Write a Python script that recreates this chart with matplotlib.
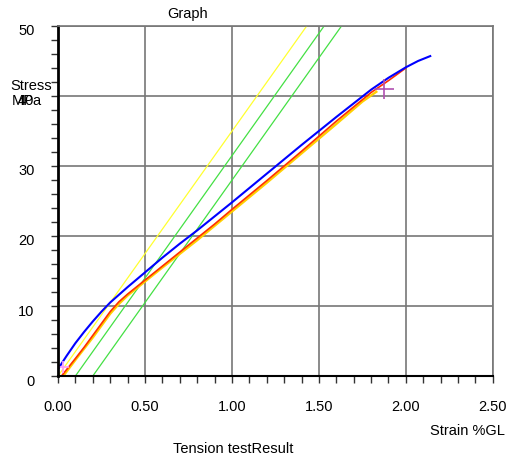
import numpy as np
import matplotlib.pyplot as plt
from matplotlib.ticker import MultipleLocator
import matplotlib.transforms as mtransforms

plt.rcParams['font.family'] = ['Liberation Sans', 'DejaVu Sans']

# stress-strain curves
blue_strain = [0.0, 0.05, 0.1, 0.15, 0.2, 0.25, 0.3, 0.35, 0.4, 0.5, 0.6, 0.7, 0.8,
               0.9, 1.0, 1.2, 1.4, 1.6, 1.8, 1.9, 2.0, 2.07, 2.14]
blue_stress = [1.0, 2.9, 4.7, 6.3, 7.8, 9.2, 10.5, 11.6, 12.7, 14.8, 16.9, 18.9, 20.8,
               22.8, 24.8, 28.9, 33.0, 37.0, 40.9, 42.6, 44.1, 45.0, 45.7]

red_strain = [0.02, 0.1, 0.15, 0.2, 0.25, 0.3, 0.35, 0.4, 0.45, 0.5, 0.6, 0.7, 0.8,
              0.9, 1.0, 1.2, 1.4, 1.6, 1.8, 1.9, 2.0]
red_stress = [0.0, 2.5, 4.1, 5.8, 7.5, 9.2, 10.6, 11.7, 12.7, 13.7, 15.7, 17.7, 19.7,
              21.7, 23.8, 27.9, 32.1, 36.4, 40.5, 42.2, 44.0]

yellow_strain = [0.03, 0.1, 0.2, 0.3, 0.35, 0.4, 0.5, 0.6, 0.8, 1.0, 1.2, 1.4, 1.6,
                 1.75, 1.83]
yellow_stress = [0.0, 2.3, 5.5, 8.9, 10.3, 11.5, 13.5, 15.5, 19.4, 23.5, 27.6, 31.8,
                 36.0, 39.2, 40.6]

# modulus / offset lines
mod_strain = [0.0, 1.43]
mod_stress = [0.0, 50.0]
off1_strain = [0.1, 1.53]
off2_strain = [0.2, 1.63]

break_pt = (1.875, 41.0)
start_pt = (0.03, 1.3)

fig = plt.figure(figsize=(5.08, 4.59), dpi=100)
ax = fig.add_axes([0.1142, 0.1808, 0.856, 0.7626])

ax.plot(off1_strain, mod_stress, color='#44e044', lw=0.9)
ax.plot(off2_strain, mod_stress, color='#44e044', lw=0.9)
ax.plot(mod_strain, mod_stress, color='#ffff30', lw=0.9)
ax.plot(yellow_strain, yellow_stress, color='#ffd000', lw=1.7)
ax.plot(red_strain, red_stress, color='#ff3000', lw=1.2)
ax.plot(blue_strain, blue_stress, color='#0000ff', lw=1.5)

ax.plot(*break_pt, marker='+', ms=15, mew=1.2, color='#b050b0', ls='none')
ax.plot(*start_pt, marker='+', ms=8, mew=1.2, color='#ff99ff', ls='none')

ax.set_xlim(0, 2.5)
ax.set_ylim(0, 50)
ax.xaxis.set_major_locator(MultipleLocator(0.5))
ax.xaxis.set_minor_locator(MultipleLocator(0.1))
ax.yaxis.set_major_locator(MultipleLocator(10))
ax.yaxis.set_minor_locator(MultipleLocator(2))
ax.set_xticklabels(['%.2f' % v for v in np.arange(-0.5, 3.01, 0.5)])

ax.grid(True, which='major', color='#777777', lw=1.2)
ax.set_axisbelow(True)
ax.tick_params(which='both', direction='out', length=5, width=1, color='#333333',
               labelsize=10.5)
ax.tick_params(axis='x', pad=12)
ax.tick_params(axis='y', pad=12)

for side in ['top', 'right']:
    ax.spines[side].set_color('#777777')
    ax.spines[side].set_linewidth(1.2)
ax.spines['left'].set_linewidth(2)
ax.spines['bottom'].set_linewidth(1.5)

shift = mtransforms.ScaledTranslation(0, -0.04, fig.dpi_scale_trans)
for lbl in ax.get_yticklabels():
    lbl.set_transform(lbl.get_transform() + shift)

fig.text(187.5 / 508, 1 - 14 / 459, 'Graph', ha='center', va='center', fontsize=10.5)
fig.text(10 / 508, 1 - 86 / 459, 'Stress', ha='left', va='center', fontsize=10.5)
fig.text(12 / 508, 1 - 101 / 459, 'MPa', ha='left', va='center', fontsize=10.5)
fig.text(505 / 508, 1 - 431 / 459, 'Strain %GL', ha='right', va='center', fontsize=10.5)
fig.text(233 / 508, 1 - 449 / 459, 'Tension testResult', ha='center', va='center', fontsize=10.5)

fig.savefig('out.png', dpi=100)
